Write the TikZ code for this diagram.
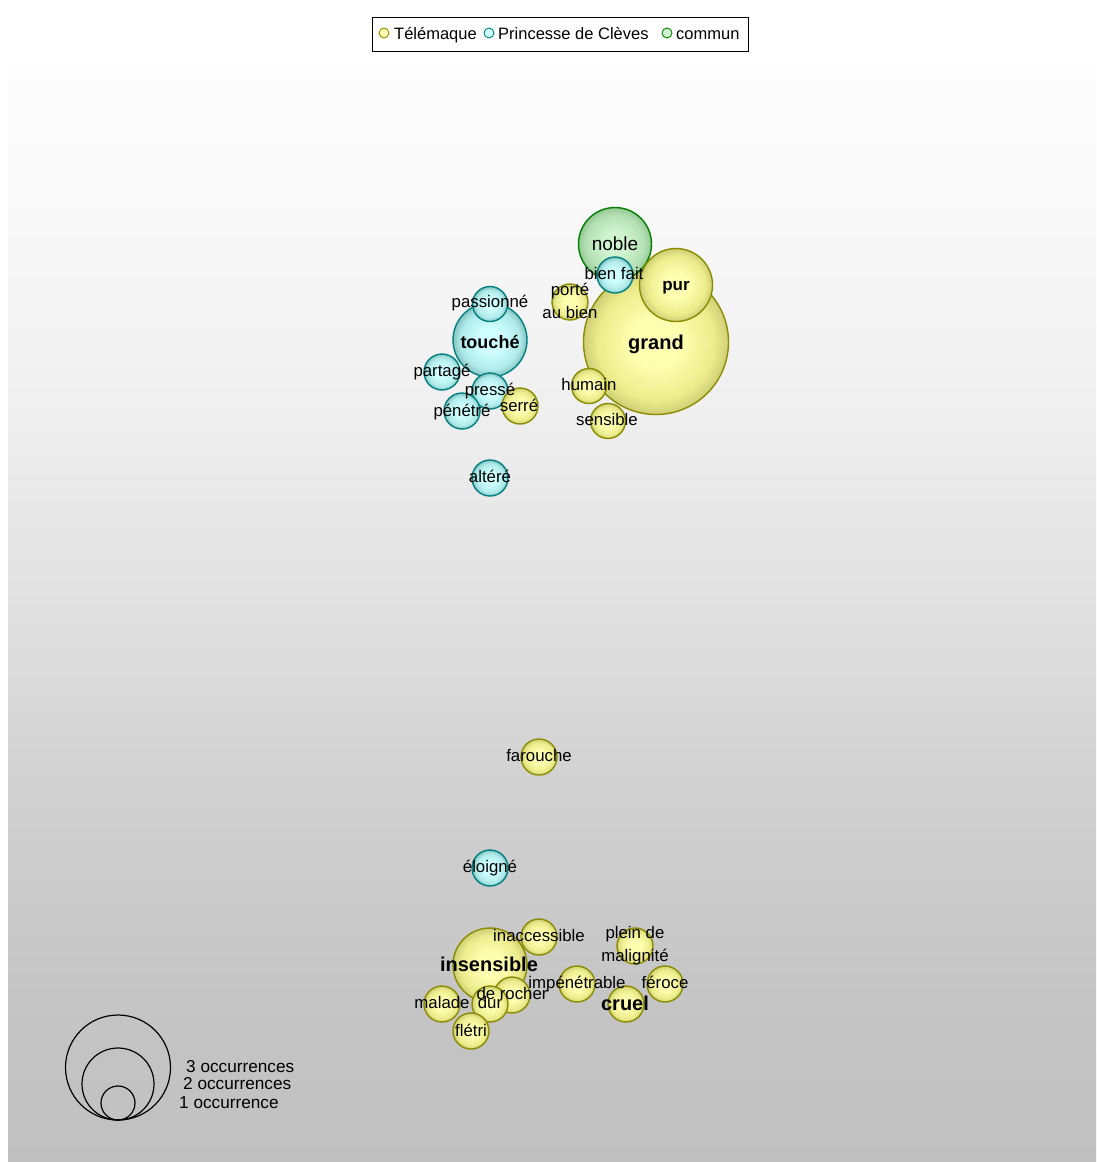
\documentclass[tikz,border=0pt]{standalone}
\usepackage{fontspec}
\setmainfont{Liberation Sans}
\usetikzlibrary{positioning}

\definecolor{telfill}{RGB}{255,255,178}
\definecolor{telmid}{RGB}{236,236,140}
\definecolor{telshade}{RGB}{206,206,118}
\definecolor{teldraw}{RGB}{140,140,0}
\definecolor{pcfill}{RGB}{208,255,255}
\definecolor{pcmid}{RGB}{176,234,234}
\definecolor{pcshade}{RGB}{136,196,196}
\definecolor{pcdraw}{RGB}{0,128,128}
\definecolor{comfill}{RGB}{208,244,208}
\definecolor{commid}{RGB}{180,224,180}
\definecolor{comshade}{RGB}{150,200,150}
\definecolor{comdraw}{RGB}{0,128,0}

\pgfdeclareradialshading{telball}{\pgfpoint{0bp}{0bp}}{color(0bp)=(telfill); color(8bp)=(telfill);
  color(20bp)=(telmid); color(25bp)=(telshade); color(50bp)=(telshade)}
\pgfdeclareradialshading{pcball}{\pgfpoint{0bp}{0bp}}{color(0bp)=(pcfill); color(8bp)=(pcfill);
  color(20bp)=(pcmid); color(25bp)=(pcshade); color(50bp)=(pcshade)}
\pgfdeclareradialshading{comball}{\pgfpoint{0bp}{0bp}}{color(0bp)=(comfill); color(8bp)=(comfill);
  color(20bp)=(commid); color(25bp)=(comshade); color(50bp)=(comshade)}

\definecolor{bgA}{RGB}{192,192,192}
\definecolor{bgB}{RGB}{197,197,197}
\definecolor{bgC}{RGB}{208,208,208}
\definecolor{bgD}{RGB}{225,225,225}
\definecolor{bgE}{RGB}{240,240,240}
\definecolor{bgF}{RGB}{249,249,249}
\definecolor{bgG}{RGB}{253,253,253}
\pgfdeclareverticalshading{panelbg}{100bp}{color(0bp)=(bgA); color(25bp)=(bgA);
  color(32.4bp)=(bgB); color(41.5bp)=(bgC); color(50.6bp)=(bgD);
  color(59.7bp)=(bgE); color(68.9bp)=(bgF); color(75bp)=(bgG); color(100bp)=(bgG)}

\tikzset{
  bub/.style={circle, inner sep=0pt, outer sep=0pt, line width=1.4pt},
  tel/.style={bub, draw=teldraw, shading=telball},
  pc/.style={bub, draw=pcdraw, shading=pcball},
  com/.style={bub, draw=comdraw, shading=comball},
  word/.style={inner sep=0pt, font=\fontsize{16.8}{23}\selectfont, text height=15pt, text depth=2pt},
  twoline/.style={inner sep=0pt, font=\fontsize{16.8}{23}\selectfont, align=center},
  bigword/.style={word, font=\fontsize{20}{23}\selectfont\bfseries, text height=17pt, text depth=2pt},
  keyword/.style={word, font=\fontsize{16.5}{23}\selectfont},
  occword/.style={word, font=\fontsize{17.2}{23}\selectfont},
  legring/.style={circle, draw, line width=1.2pt, inner sep=0pt, outer sep=0pt, anchor=south},
  legdot/.style={circle, line width=0.9pt, inner sep=0pt, minimum size=10pt},
}

\begin{document}
\begin{tikzpicture}[x=1pt, y=-1pt]
    \useasboundingbox (0,0) rectangle (1096,1162);

    % panel
    \shade[shading=panelbg] (8,65) rectangle (1096,1162);

    % legend
    \node[draw, line width=0.8pt, minimum width=376pt, minimum height=34pt, inner sep=0pt] (legend) at (560,34) {};
    \node[legdot, draw=teldraw, fill=telfill] (ktel) at (384,33) {};
    \node[keyword, anchor=west] (ktel-t) at (394,33) {Télémaque};
    \node[legdot, draw=pcdraw, fill=pcfill] (kpc) at (489,33) {};
    \node[keyword, anchor=west] (kpc-t) at (498,33) {Princesse de Clèves};
    \node[legdot, draw=comdraw, fill=comfill] (kcom) at (667,33) {};
    \node[keyword, anchor=west] (kcom-t) at (676,33) {commun};

    % upper group
    \node[tel, minimum size=145pt] (grand) at (656,342) {};
    \node[com, minimum size=73pt] (noble) at (615,244) {};
    \node[tel, minimum size=73pt] (pur) at (676,285) {};
    \node[pc, minimum size=36pt] (bienfait) at (615,275) {};
    \node[tel, minimum size=36pt] (porte) at (570,302) {};
    \node[tel, minimum size=35pt] (humain) at (589,386) {};
    \node[tel, minimum size=35pt] (sensible) at (608,421) {};

    \node[pc, minimum size=74pt] (touche) at (490,340) {};
    \node[pc, minimum size=35pt] (passionne) at (490,304) {};
    \node[pc, minimum size=36pt] (partage) at (442,372) {};
    \node[pc, minimum size=36pt] (presse) at (490,391) {};
    \node[pc, minimum size=36pt] (penetre) at (462,411) {};
    \node[tel, minimum size=36pt] (serre) at (520,406) {};
    \node[pc, minimum size=36pt] (altere) at (490,478) {};

    % lower group
    \node[tel, minimum size=36pt] (farouche) at (539,757) {};
    \node[pc, minimum size=36pt] (eloigne) at (490,868) {};
    \node[tel, minimum size=74pt] (insensible) at (490,965) {};
    \node[tel, minimum size=36pt] (inaccessible) at (539,937) {};
    \node[tel, minimum size=36pt] (plein) at (635,946) {};
    \node[tel, minimum size=36pt] (impenetrable) at (577,984) {};
    \node[tel, minimum size=36pt] (feroce) at (665,984) {};
    \node[tel, minimum size=36pt] (cruel) at (626,1004) {};
    \node[tel, minimum size=36pt] (rocher) at (512,995) {};
    \node[tel, minimum size=36pt] (dur) at (490,1004) {};
    \node[tel, minimum size=36pt] (malade) at (442,1004) {};
    \node[tel, minimum size=36pt] (fletri) at (471,1031) {};

    % words
    \node[bigword] (t-grand) at (grand) {grand};
    \node[word, font=\fontsize{19}{23}\selectfont] (t-noble) at (noble) {noble};
    \node[bigword, font=\fontsize{17}{23}\selectfont\bfseries] (t-pur) at ([yshift=2pt]pur) {pur};
    \node[word] (t-bienfait) at ([xshift=-1pt,yshift=2pt]bienfait) {bien fait};
    \node[twoline] (t-porte) at ([yshift=1pt]porte) {porté\\au bien};
    \node[word] (t-humain) at ([yshift=2pt]humain) {humain};
    \node[word] (t-sensible) at ([xshift=-1pt,yshift=2pt]sensible) {sensible};
    \node[bigword, font=\fontsize{18}{23}\selectfont\bfseries] (t-touche) at ([yshift=-1pt]touche) {touché};
    \node[word] (t-passionne) at ([yshift=3pt]passionne) {passionné};
    \node[word] (t-partage) at ([yshift=2pt]partage) {partagé};
    \node[word] (t-presse) at ([yshift=2pt]presse) {pressé};
    \node[word] (t-penetre) at ([yshift=1pt]penetre) {pénétré};
    \node[word] (t-serre) at ([xshift=-1pt,yshift=1pt]serre) {serré};
    \node[word] (t-altere) at ([yshift=2pt]altere) {altéré};
    \node[word] (t-farouche) at ([yshift=2pt]farouche) {farouche};
    \node[word] (t-eloigne) at ([yshift=2pt]eloigne) {éloigné};
    \node[bigword] (t-insensible) at ([xshift=-1pt,yshift=1pt]insensible) {insensible};
    \node[word] (t-inaccessible) at ([yshift=2pt]inaccessible) {inaccessible};
    \node[twoline] (t-plein) at ([yshift=0.5pt]plein) {plein de\\malignité};
    \node[word] (t-impenetrable) at ([yshift=2pt]impenetrable) {impénétrable};
    \node[word] (t-feroce) at ([yshift=2pt]feroce) {féroce};
    \node[bigword] (t-cruel) at ([xshift=-1pt,yshift=1pt]cruel) {cruel};
    \node[word] (t-rocher) at ([yshift=2pt]rocher) {de rocher};
    \node[word] (t-dur) at ([yshift=2pt]dur) {dur};
    \node[word] (t-malade) at ([yshift=2pt]malade) {malade};
    \node[word] (t-fletri) at ([yshift=1pt]fletri) {flétri};

    % occurrences
    \coordinate (occbase) at (118,1120);
    \node[legring, minimum size=105pt] (occ3) at (occbase) {};
    \node[legring, minimum size=72pt] (occ2) at (occbase) {};
    \node[legring, minimum size=34pt] (occ1) at (occbase) {};
    \node[occword, anchor=west] (occ3-t) at (186,1066) {3 occurrences};
    \node[occword, anchor=west] (occ2-t) at (183,1083) {2 occurrences};
    \node[occword, anchor=west] (occ1-t) at (179,1102) {1 occurrence};
\end{tikzpicture}
\end{document}
